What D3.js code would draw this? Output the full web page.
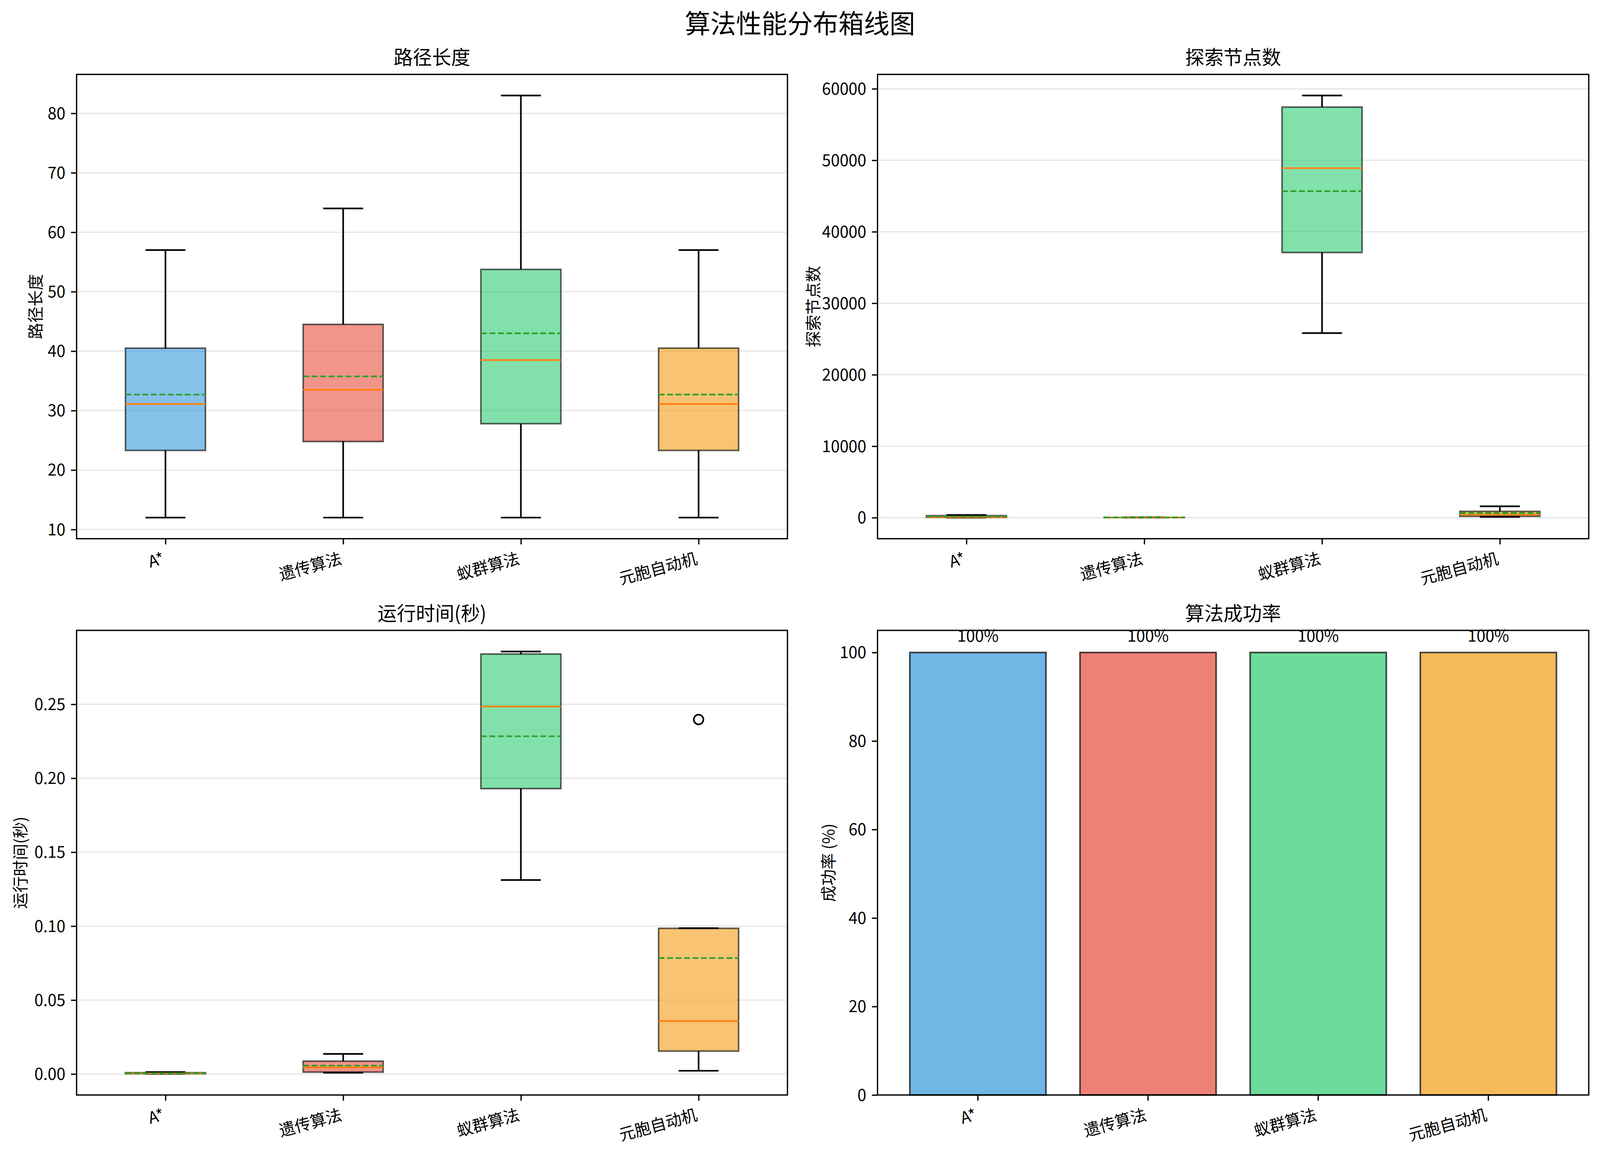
<!DOCTYPE html>
<html><head><meta charset="utf-8">
<script src="https://cdn.jsdelivr.net/npm/d3@7/dist/d3.min.js"></script>
<style>html,body{margin:0;padding:0;background:#fff;overflow:hidden;width:100%;height:100%}
svg{display:block;width:100vw;height:100vh}</style>
</head><body>
<svg id="chart" viewBox="0 0 4169 2953" preserveAspectRatio="none"></svg>
<script>
// ---------------- DATA ----------------
const algorithms = ["A*", "遗传算法", "蚁群算法", "元胞自动机"];
const colors = ["#3498db", "#e74c3c", "#2ecc71", "#f39c12"];

// 路径长度 box statistics
const pathLo   = [12, 12, 12, 12];
const pathQ1   = [23.3, 24.8, 27.8, 23.3];
const pathMed  = [31.1, 33.5, 38.5, 31.1];
const pathMean = [32.7, 35.75, 43.0, 32.7];
const pathQ3   = [40.5, 44.5, 53.75, 40.5];
const pathHi   = [57, 64, 83, 57];
const pathFliers = [[], [], [], []];
const pathTicks = [10, 20, 30, 40, 50, 60, 70, 80];

// 探索节点数 box statistics
const nodesLo   = [15, 21, 25820, 120];
const nodesQ1   = [50, 28, 37100, 200];
const nodesMed  = [90, 36, 48900, 450];
const nodesMean = [175, 40, 45680, 650];
const nodesQ3   = [285, 48, 57440, 885];
const nodesHi   = [375, 62, 59060, 1595];
const nodesFliers = [[], [], [], []];
const nodesTicks = [0, 10000, 20000, 30000, 40000, 50000, 60000];

// 运行时间(秒) box statistics
const timeLo   = [0.0001, 0.0009, 0.1312, 0.0022];
const timeQ1   = [0.0002, 0.0013, 0.1930, 0.0155];
const timeMed  = [0.0004, 0.0045, 0.2485, 0.0358];
const timeMean = [0.0005, 0.0057, 0.2284, 0.0784];
const timeQ3   = [0.0009, 0.0087, 0.2840, 0.0985];
const timeHi   = [0.0013, 0.0136, 0.2857, 0.0986];
const timeFliers = [[], [], [], [0.2397]];
const timeTicks = [0, 0.05, 0.10, 0.15, 0.20, 0.25];

// 算法成功率
const successRate = [100, 100, 100, 100];
const successTicks = [0, 20, 40, 60, 80, 100];

// ---------------- LAYOUT / STYLE ----------------
const W = 4169, H = 2953;
const PT = 300 / 72;
const FONT = '"Noto Sans CJK SC", "Noto Sans", sans-serif';
const TICK = 3.5 * PT, PAD = 3.5 * PT;
const FS = 10 * PT;

const svg = d3.select("#chart").style("font-family", FONT);
svg.append("rect").attr("width", W).attr("height", H).attr("fill", "#fff");

svg.append("text").attr("x", W / 2).attr("y", 85)
  .attr("text-anchor", "middle").attr("font-size", 16 * PT).attr("fill", "#000")
  .text("算法性能分布箱线图");

const panels = [
  {x0: 199.6, x1: 2051.8, y0: 190.4, y1: 1378.5, title: "路径长度", ylabel: "路径长度", ylabX: 91.7},
  {x0: 2286.5, x1: 4139.7, y0: 190.4, y1: 1378.5, title: "探索节点数", ylabel: "探索节点数", ylabX: 2118.7},
  {x0: 199.6, x1: 2051.8, y0: 1613.1, y1: 2802, title: "运行时间(秒)", ylabel: "运行时间(秒)", ylabX: 52},
  {x0: 2286.5, x1: 4139.7, y0: 1613.1, y1: 2802, title: "算法成功率", ylabel: "成功率 (%)", ylabX: 2158.6}
];

function padDomain(lo, hi) { const r = hi - lo; return [lo - 0.05 * r, hi + 0.05 * r]; }

function frame(p) {
  const g = svg.append("g");
  g.append("text").attr("x", (p.x0 + p.x1) / 2).attr("y", p.y0 - 6 * PT)
    .attr("text-anchor", "middle").attr("font-size", 12 * PT).attr("fill", "#000").text(p.title);
  const cy = (p.y0 + p.y1) / 2, bx = p.ylabX + 0.38 * FS;
  g.append("text").attr("transform", `translate(${bx},${cy}) rotate(-90)`)
    .attr("text-anchor", "middle").attr("font-size", FS).attr("fill", "#000").text(p.ylabel);
  return g;
}

function styleAxis(sel) {
  sel.select(".domain").remove();
  sel.selectAll(".tick line").attr("stroke", "#000").attr("stroke-width", 0.8 * PT);
  sel.selectAll(".tick text").attr("font-size", FS).attr("fill", "#000").style("font-family", FONT);
}

function rotateLabels(ax) {
  const s = Math.sin(15 * Math.PI / 180), c = Math.cos(15 * Math.PI / 180);
  ax.selectAll(".tick text")
    .attr("y", null).attr("dy", null).attr("text-anchor", "end")
    .attr("transform", `translate(${-0.14 * FS * s},${TICK + PAD + 0.86 * FS * c}) rotate(-15)`);
}

function xAxisRotated(g, p, scale, vals) {
  const ax = g.append("g").attr("transform", `translate(0,${p.y1})`)
    .call(d3.axisBottom(scale).tickValues(vals).tickFormat((d, i) => algorithms[i])
      .tickSize(TICK).tickPadding(PAD));
  styleAxis(ax);
  rotateLabels(ax);
}

function yAxis(g, p, scale, ticks, fmt) {
  const ax = g.append("g").attr("transform", `translate(${p.x0},0)`)
    .call(d3.axisLeft(scale).tickValues(ticks).tickFormat(fmt).tickSize(TICK).tickPadding(PAD));
  styleAxis(ax);
  ax.selectAll(".tick text").attr("dy", "0.34em");
}

function spines(g, p) {
  g.append("rect").attr("x", p.x0).attr("y", p.y0).attr("width", p.x1 - p.x0).attr("height", p.y1 - p.y0)
    .attr("fill", "none").attr("stroke", "#000").attr("stroke-width", 0.8 * PT);
}

function boxPanel(p, lo, q1, med, mean, q3, hi, fliers, ticks, fmt) {
  const g = frame(p);
  const allVals = lo.concat(hi, fliers.flat());
  const y = d3.scaleLinear().domain(padDomain(d3.min(allVals), d3.max(allVals))).range([p.y1, p.y0]);
  const x = d3.scaleLinear().domain([0.5, algorithms.length + 0.5]).range([p.x0, p.x1]);
  const pos = algorithms.map((d, i) => i + 1);
  const bw = 0.45, cw = bw / 2;

  // grid
  g.append("g").selectAll("line").data(ticks).join("line")
    .attr("x1", p.x0).attr("x2", p.x1).attr("y1", d => y(d)).attr("y2", d => y(d))
    .attr("stroke", "#b0b0b0").attr("stroke-opacity", 0.3).attr("stroke-width", 0.8 * PT);

  const lw = 1 * PT;
  algorithms.forEach((name, i) => {
    const c = pos[i];
    const bg = g.append("g");
    bg.append("rect").attr("x", x(c - bw / 2)).attr("width", x(c + bw / 2) - x(c - bw / 2))
      .attr("y", y(q3[i])).attr("height", y(q1[i]) - y(q3[i]))
      .attr("fill", colors[i]).attr("fill-opacity", 0.6)
      .attr("stroke", "#000").attr("stroke-opacity", 0.6).attr("stroke-width", lw);
    [[q1[i], lo[i]], [q3[i], hi[i]]].forEach(([a, b]) => {
      bg.append("line").attr("x1", x(c)).attr("x2", x(c)).attr("y1", y(a)).attr("y2", y(b))
        .attr("stroke", "#000").attr("stroke-width", lw);
    });
    [lo[i], hi[i]].forEach(v => {
      bg.append("line").attr("x1", x(c - cw / 2)).attr("x2", x(c + cw / 2)).attr("y1", y(v)).attr("y2", y(v))
        .attr("stroke", "#000").attr("stroke-width", lw);
    });
    bg.append("line").attr("x1", x(c - bw / 2)).attr("x2", x(c + bw / 2)).attr("y1", y(med[i])).attr("y2", y(med[i]))
      .attr("stroke", "#ff7f0e").attr("stroke-width", lw);
    bg.append("line").attr("x1", x(c - bw / 2)).attr("x2", x(c + bw / 2)).attr("y1", y(mean[i])).attr("y2", y(mean[i]))
      .attr("stroke", "#2ca02c").attr("stroke-width", lw)
      .attr("stroke-dasharray", `${3.7 * PT},${1.6 * PT}`);
    bg.selectAll("circle.f").data(fliers[i]).join("circle")
      .attr("cx", x(c)).attr("cy", d => y(d)).attr("r", 3 * PT)
      .attr("fill", "none").attr("stroke", "#000").attr("stroke-width", lw);
  });

  spines(g, p);
  yAxis(g, p, y, ticks, fmt);
  xAxisRotated(g, p, x, pos);
}

boxPanel(panels[0], pathLo, pathQ1, pathMed, pathMean, pathQ3, pathHi, pathFliers, pathTicks, d3.format("d"));
boxPanel(panels[1], nodesLo, nodesQ1, nodesMed, nodesMean, nodesQ3, nodesHi, nodesFliers, nodesTicks, d3.format("d"));
boxPanel(panels[2], timeLo, timeQ1, timeMed, timeMean, timeQ3, timeHi, timeFliers, timeTicks, d3.format(".2f"));

// success-rate bar chart
(function () {
  const p = panels[3];
  const g = frame(p);
  const y = d3.scaleLinear().domain([0, d3.max(successRate) * 1.05]).range([p.y1, p.y0]);
  const x = d3.scaleBand().domain(algorithms).range([p.x0, p.x1]).paddingInner(0.2).paddingOuter(0.19);
  g.append("g").selectAll("rect").data(successRate).join("rect")
    .attr("x", (d, i) => x(algorithms[i])).attr("width", x.bandwidth())
    .attr("y", d => y(d)).attr("height", d => y(0) - y(d))
    .attr("fill", (d, i) => colors[i]).attr("fill-opacity", 0.7)
    .attr("stroke", "#000").attr("stroke-opacity", 0.7).attr("stroke-width", 1 * PT);
  g.append("g").selectAll("text").data(successRate).join("text")
    .attr("x", (d, i) => x(algorithms[i]) + x.bandwidth() / 2)
    .attr("y", d => y(d + 2) - 0.12 * FS)
    .attr("text-anchor", "middle").attr("font-size", FS).attr("fill", "#000")
    .text(d => d + "%");
  spines(g, p);
  yAxis(g, p, y, successTicks, d3.format("d"));
  const ax = g.append("g").attr("transform", `translate(0,${p.y1})`)
    .call(d3.axisBottom(x).tickSize(TICK).tickPadding(PAD));
  styleAxis(ax);
  rotateLabels(ax);
})();
</script>
</body></html>
